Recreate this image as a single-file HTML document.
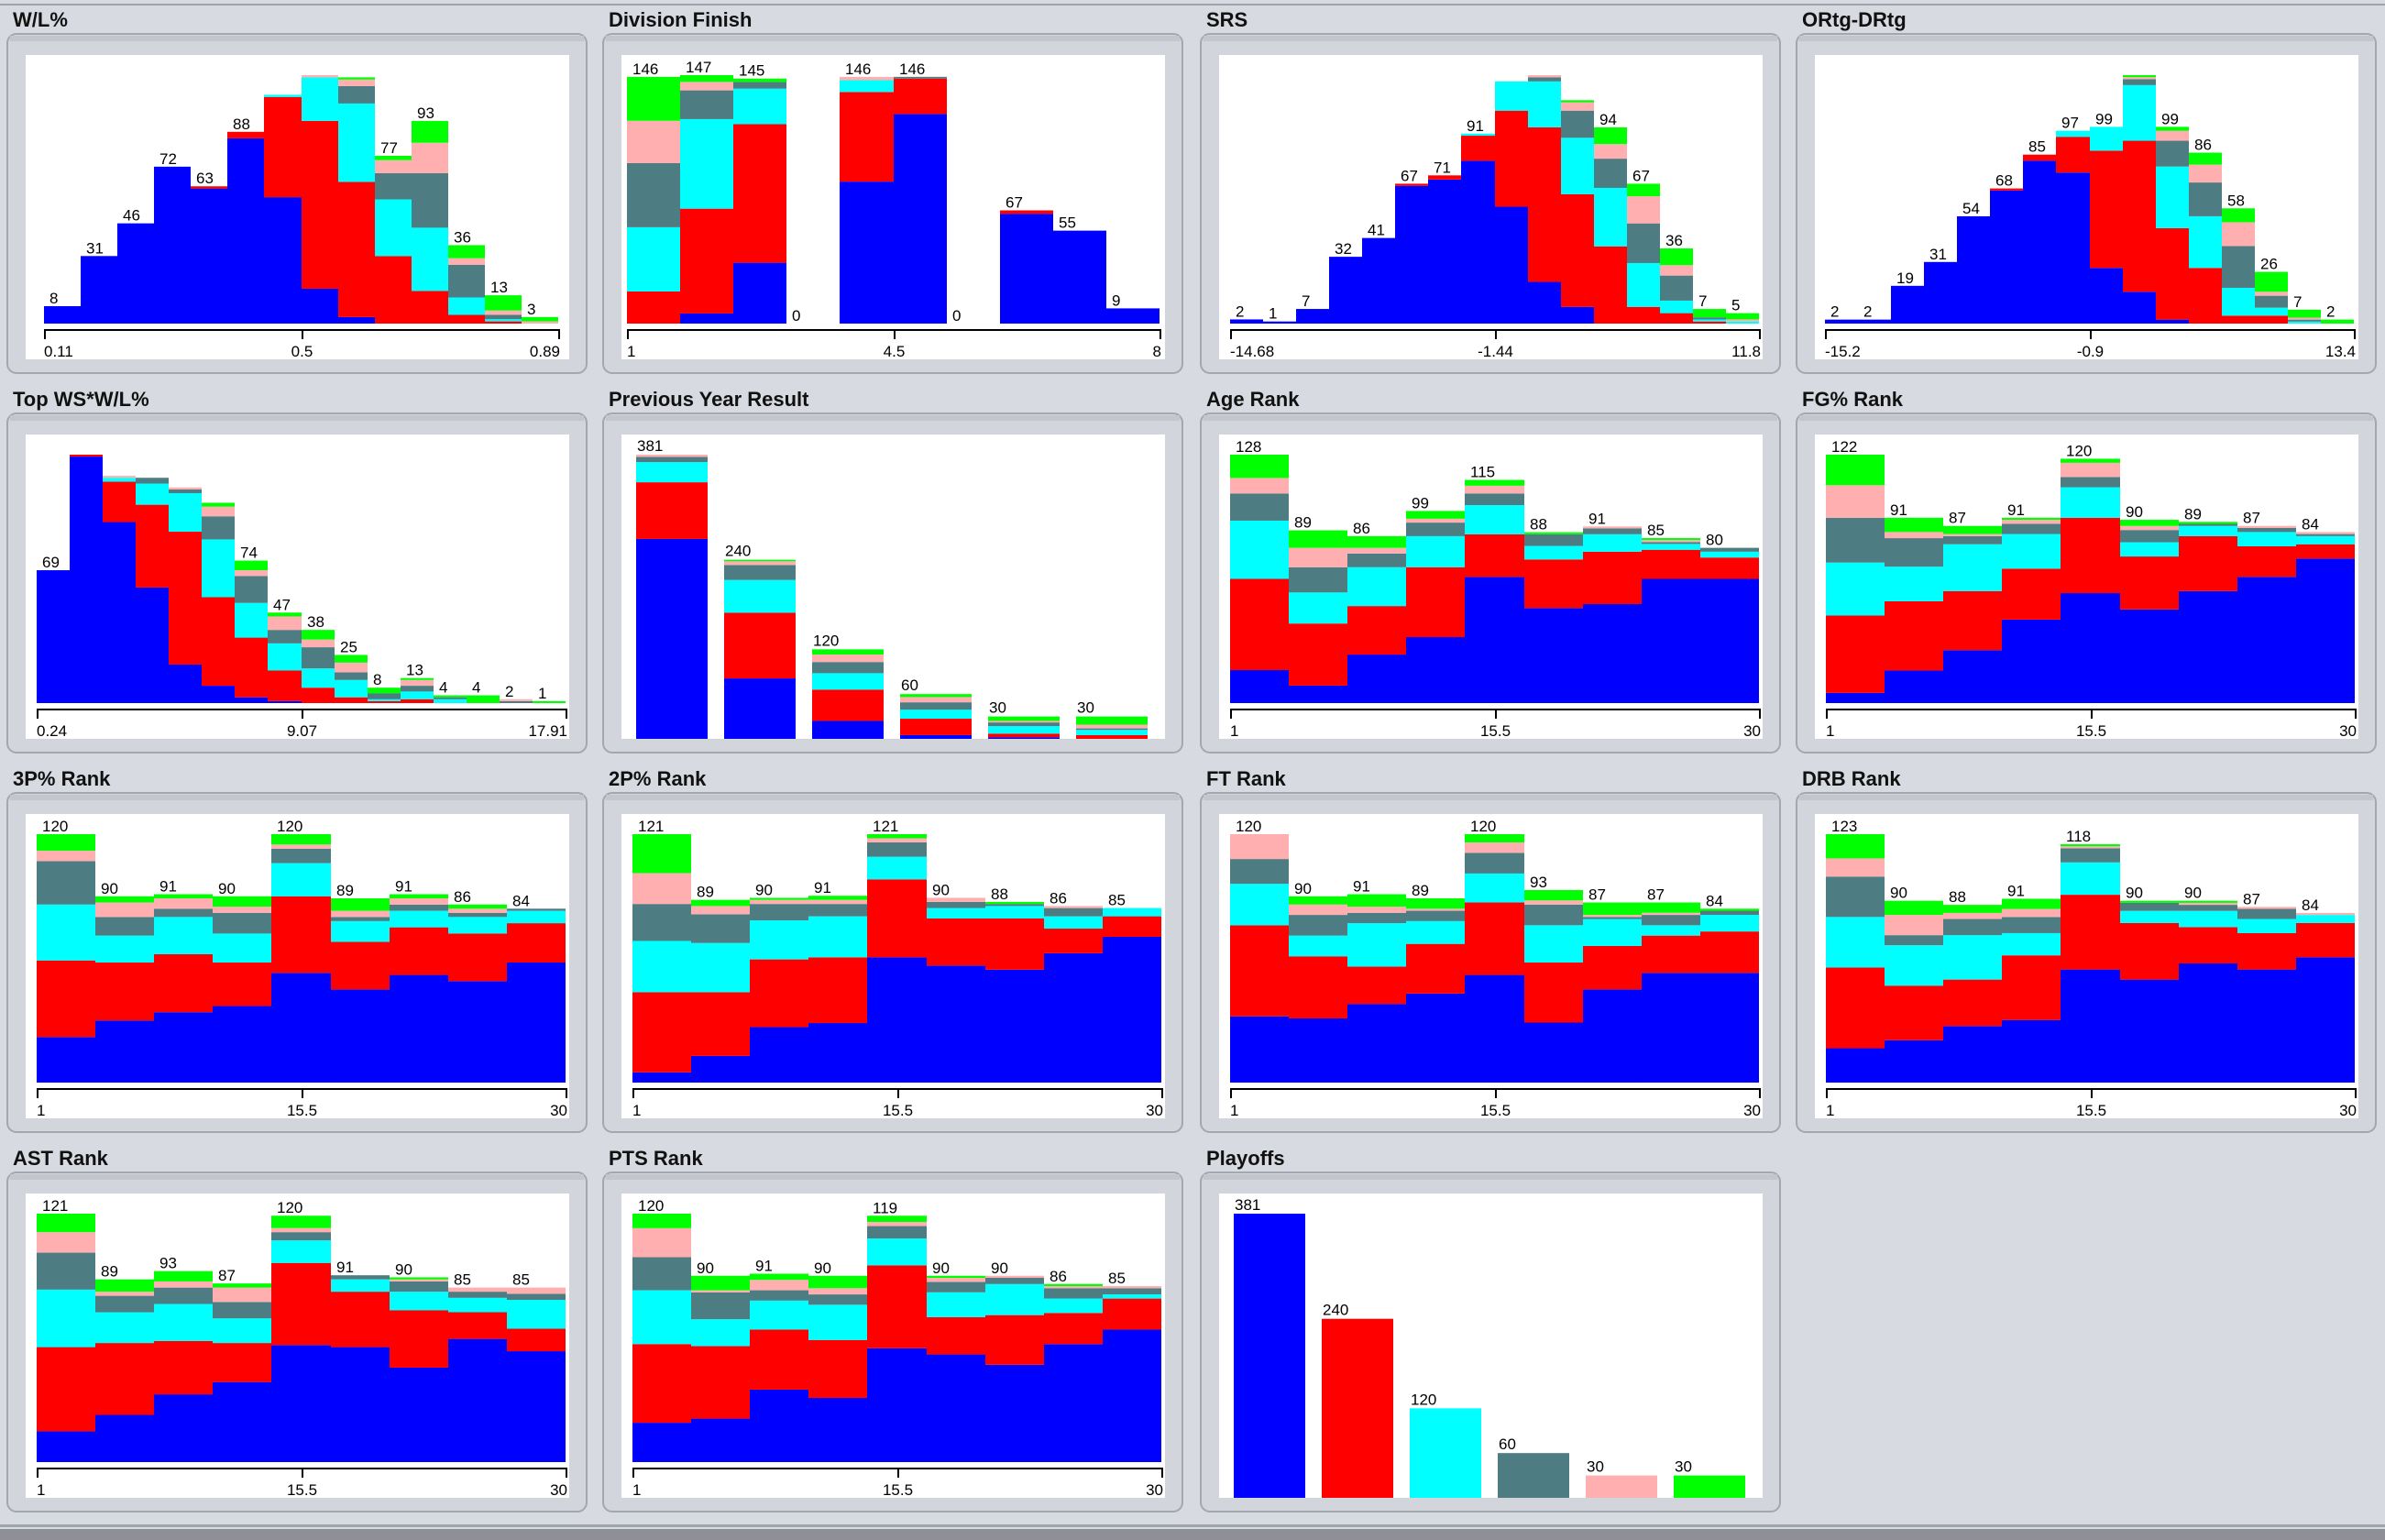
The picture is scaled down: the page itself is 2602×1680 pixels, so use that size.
<!DOCTYPE html>
<html><head><meta charset="utf-8"><title>Histograms</title>
<style>
html,body{margin:0;padding:0;background:#d7dae1;}
#root{position:relative;width:2602px;height:1680px;overflow:hidden;background:#d7dae1;}
svg text{font-family:"Liberation Sans",sans-serif;}
</style></head>
<body>
<div id="root">
<svg id="svg" width="2602" height="1680" xmlns="http://www.w3.org/2000/svg">
  <rect x="0" y="0" width="2602" height="1680" fill="#d7dae1"/>
  <rect x="0" y="4" width="2602" height="2" fill="#9ea2a9"/>
  <rect x="0" y="1663" width="2602" height="3" fill="#a0a4ab"/>
  <rect x="0" y="1668" width="2602" height="12" fill="#8e9096"/>
</svg>
</div>
<script>
const COLORS = ['#0000ff','#ff0000','#00ffff','#4d7d82','#ffafaf','#00ff00'];

// W/L%
const wlBlue  = [8,31,46,72,62,85,58,16,3,0,0,0,0,0];
const wlRed   = [0,0,0,0,1,3,46,77,62,31,15,4,1,0];
const wlCyan  = [0,0,0,0,0,0,1,20,36,26,29,8,1,0];
const wlSlate = [0,0,0,0,0,0,0,0,8,12,25,15,2,0];
const wlPink  = [0,0,0,0,0,0,0,1,3,6,14,3,2,1];
const wlGreen = [0,0,0,0,0,0,0,0,1,2,10,6,7,2];
const wlLabels = [8,31,46,72,63,88,null,null,null,77,93,36,13,3];
const wlTicks = ["0.11","0.5","0.89"];

// Division Finish
const divBlue  = [0,6,36,0,84,124,0,65,55,9];
const divRed   = [19,62,82,0,53,21,0,2,0,0];
const divCyan  = [38,53,21,0,7,0,0,0,0,0];
const divSlate = [38,17,4,0,0,1,0,0,0,0];
const divPink  = [25,5,0,0,2,0,0,0,0,0];
const divGreen = [26,4,2,0,0,0,0,0,0,0];
const divLabels = [146,147,145,0,146,146,0,67,55,9];
const divTicks = ["1","4.5","8"];

// SRS
const srsBlue  = [2,1,7,32,41,66,69,78,56,20,8,0,0,0,0,0];
const srsRed   = [0,0,0,0,0,1,2,12,46,74,54,37,8,5,1,0];
const srsCyan  = [0,0,0,0,0,0,0,1,14,22,27,28,21,6,1,1];
const srsSlate = [0,0,0,0,0,0,0,0,0,2,13,14,19,12,1,0];
const srsPink  = [0,0,0,0,0,0,0,0,0,1,4,7,13,5,0,1];
const srsGreen = [0,0,0,0,0,0,0,0,0,0,1,8,6,8,4,3];
const srsLabels = [2,1,7,32,41,67,71,91,null,null,null,94,67,36,7,5];
const srsTicks = ["-14.68","-1.44","11.8"];

// ORtg-DRtg
const ortBlue  = [2,2,19,31,54,67,82,76,28,16,2,0,0,0,0,0];
const ortRed   = [0,0,0,0,0,1,3,18,59,76,46,28,4,4,0,0];
const ortCyan  = [0,0,0,0,0,0,0,3,12,28,31,26,14,4,1,0];
const ortSlate = [0,0,0,0,0,0,0,0,0,3,13,17,21,6,1,0];
const ortPink  = [0,0,0,0,0,0,0,0,0,1,5,9,12,2,1,0];
const ortGreen = [0,0,0,0,0,0,0,0,0,1,2,6,7,10,4,2];
const ortLabels = [2,2,19,31,54,68,85,97,99,null,99,86,58,26,7,2];
const ortTicks = ["-15.2","-0.9","13.4"];

// Top WS*W/L%
const twsBlue  = [69,128,94,60,20,9,3,1,0,0,0,0,0,0,0,0];
const twsRed   = [0,1,21,43,69,46,31,16,8,3,1,2,0,0,0,0];
const twsCyan  = [0,0,2,11,20,30,18,14,10,9,1,4,2,0,0,0];
const twsSlate = [0,0,0,3,2,12,14,7,11,4,3,3,1,0,1,0];
const twsPink  = [0,0,1,0,1,5,3,7,4,5,0,3,0,0,1,0];
const twsGreen = [0,0,0,0,0,2,5,2,5,4,3,1,1,4,0,1];
const twsLabels = [69,null,null,null,null,null,74,47,38,25,8,13,4,4,2,1];
const twsTicks = ["0.24","9.07","17.91"];

// Previous Year Result
const pyrBlue  = [268,81,24,5,2,0];
const pyrRed   = [76,88,42,22,5,5];
const pyrCyan  = [27,44,22,12,10,7];
const pyrSlate = [7,20,15,10,5,2];
const pyrPink  = [3,5,10,7,2,5];
const pyrGreen = [0,2,7,4,6,11];
const pyrLabels = [381,240,120,60,30,30];

// Age Rank
const ageBlue  = [17,9,25,34,65,49,51,64,64];
const ageRed   = [47,32,25,36,22,25,27,15,11];
const ageCyan  = [30,16,20,16,15,7,9,3,3];
const ageSlate = [14,13,7,7,6,6,3,1,2];
const agePink  = [8,10,3,2,4,0,1,1,0];
const ageGreen = [12,9,6,4,3,1,0,1,0];
const ageLabels = [128,89,86,99,115,88,91,85,80];

// FG% Rank
const fgBlue  = [5,16,26,41,54,46,55,62,71];
const fgRed   = [38,34,29,25,37,26,27,15,7];
const fgCyan  = [26,17,23,17,15,7,5,7,4];
const fgSlate = [22,14,4,5,5,6,1,2,1];
const fgPink  = [16,3,1,2,7,2,0,1,1];
const fgGreen = [15,7,4,1,2,3,1,0,0];
const fgLabels = [122,91,87,91,120,90,89,87,84];

// 3P% Rank
const p3Blue  = [22,30,34,37,53,45,52,49,58];
const p3Red   = [37,28,28,21,37,23,23,23,19];
const p3Cyan  = [27,13,18,14,16,10,8,8,6];
const p3Slate = [21,9,4,10,7,2,3,2,1];
const p3Pink  = [5,7,5,3,2,3,3,2,0];
const p3Green = [8,3,2,5,5,6,2,2,0];
const p3Labels = [120,90,91,90,120,89,91,86,84];

// 2P% Rank
const p2Blue  = [5,13,27,29,61,57,55,63,71];
const p2Red   = [39,31,33,32,38,23,25,12,10];
const p2Cyan  = [25,24,19,20,11,5,6,6,4];
const p2Slate = [18,14,8,6,7,3,1,4,0];
const p2Pink  = [15,4,2,2,2,2,0,1,0];
const p2Green = [19,3,1,2,2,0,1,0,0];
const p2Labels = [121,89,90,91,121,90,88,86,85];

// FT Rank
const ftBlue  = [32,31,38,43,52,29,45,53,53];
const ftRed   = [44,30,18,24,35,29,21,18,20];
const ftCyan  = [20,10,21,11,14,18,13,5,8];
const ftSlate = [12,10,5,5,10,10,1,5,2];
const ftPink  = [12,5,3,1,5,2,1,1,0];
const ftGreen = [0,4,6,5,4,5,6,5,1];
const ftLabels = [120,90,91,89,120,93,87,87,84];

// DRB Rank
const drbBlue  = [17,21,28,31,56,51,59,56,62];
const drbRed   = [40,27,23,32,37,28,18,18,17];
const drbCyan  = [25,20,22,11,16,6,8,7,4];
const drbSlate = [20,5,8,8,7,4,3,5,0];
const drbPink  = [9,10,3,4,1,0,1,1,1];
const drbGreen = [12,7,4,5,1,1,1,0,0];
const drbLabels = [123,90,88,91,118,90,90,87,84];

// AST Rank
const astBlue  = [15,23,33,39,57,56,46,60,54];
const astRed   = [41,35,26,19,40,27,28,13,11];
const astCyan  = [28,15,18,12,11,6,9,7,14];
const astSlate = [18,8,8,8,4,2,5,3,3];
const astPink  = [10,2,3,7,2,0,1,2,3];
const astGreen = [9,6,5,2,6,0,1,0,0];
const astLabels = [121,89,93,87,120,91,90,85,85];

// PTS Rank
const ptsBlue  = [19,21,35,31,55,52,47,57,64];
const ptsRed   = [38,35,29,28,40,18,24,15,15];
const ptsCyan  = [26,13,14,17,13,12,15,7,2];
const ptsSlate = [16,13,5,5,6,5,3,5,3];
const ptsPink  = [14,1,5,3,2,2,1,1,1];
const ptsGreen = [7,7,3,6,3,1,0,1,0];
const ptsLabels = [120,90,91,90,119,90,90,86,85];

// Playoffs
const poValues = [381,240,120,60,30,30];
const poLabels = [381,240,120,60,30,30];

const rankTicks = ["1","15.5","30"];

const NS = 'http://www.w3.org/2000/svg';
const svg = document.getElementById('svg');
const COLS = [8, 658, 1310, 1960];
const ROWS = [37, 451, 865, 1279];
const BOXW = 632, BOXH = 370;

function mk(tag, attrs, parent) {
  const e = document.createElementNS(NS, tag);
  for (const k in attrs) e.setAttribute(k, attrs[k]);
  (parent || svg).appendChild(e);
  return e;
}

function panelFrame(col, row, title, key) {
  const X = COLS[col], Y = ROWS[row];
  const g = mk('g', {});
  
  
  const t = mk('text', {x: X + 6, y: Y - 8, 'font-size': 22, 'font-weight': 'bold', fill: '#111'}, g);
  t.textContent = title;
  
  
  const box = mk('rect', {x: X, y: Y, width: BOXW, height: BOXH, rx: 10, ry: 10, fill: '#d2d5db', stroke: '#a3a7ae', 'stroke-width': 2}, g);
  
  
  mk('rect', {x: X + 3, y: Y + 2, width: BOXW - 6, height: 6, fill: '#c3c6cc'}, g);
  const plot = mk('rect', {x: X + 20, y: Y + 23, width: 593, height: 332, fill: '#ffffff'}, g);
  
  
  return {g, X, Y, L: X + 20};
}

function histPanel(col, row, title, key, series, labels, ticks, span) {
  const f = panelFrame(col, row, title, key);
  const n = series[0].length;
  const totals = [];
  for (let i = 0; i < n; i++) { let s = 0; for (const a of series) s += a[i]; totals.push(s); }
  const yMax = Math.max(...totals);
  const base = f.Y + 316, plotH = 271;
  const x0 = f.L + span[0], x1 = f.L + span[1];
  const xScale = b => x0 + (x1 - x0) * b / n;
  const yScale = v => plotH * v / yMax;
  for (let i = 0; i < n; i++) {
    let cum = 0;
    const bx = Math.round(xScale(i)), bw = Math.round(xScale(i + 1)) - bx;
    series.forEach((arr, si) => {
      const v = arr[i];
      if (v <= 0) { return; }
      const yTop = base - yScale(cum + v), yBot = base - yScale(cum);
      const r = mk('rect', {x: bx, y: yTop.toFixed(2), width: bw, height: (yBot - yTop).toFixed(2), fill: COLORS[si]}, f.g);
      
      
      cum += v;
    });
    if (labels[i] !== null && labels[i] !== undefined) {
      const t = mk('text', {x: bx + 6, y: (base - yScale(totals[i]) - 3).toFixed(1), 'font-size': 17, fill: '#000'}, f.g);
      t.textContent = labels[i];
      
      
    }
  }
  const ay = f.Y + 322;
  const axis = mk('rect', {x: x0, y: ay, width: x1 - x0 + 2, height: 2, fill: '#000'}, f.g);
  
  
  [x0, (x0 + x1) / 2, x1].forEach(tx => {
    mk('rect', {x: Math.round(tx), y: ay, width: 2, height: 11, fill: '#000'}, f.g);
  });
  const anchors = ['start', 'middle', 'end'];
  const pos = [x0, (x0 + x1) / 2 + 1, x1 + 2];
  ticks.forEach((tk, i) => {
    const t = mk('text', {x: pos[i], y: f.Y + 352, 'font-size': 17, 'text-anchor': anchors[i], fill: '#000'}, f.g);
    t.textContent = tk;
    
    
  });
}

function barPanel(col, row, title, key, series, labels, singles) {
  const f = panelFrame(col, row, title, key);
  const n = series ? series[0].length : singles.length;
  const totals = [];
  for (let i = 0; i < n; i++) {
    let s = 0;
    if (series) { for (const a of series) s += a[i]; } else { s = singles[i]; }
    totals.push(s);
  }
  const yMax = Math.max(...totals);
  const base = f.Y + 355, plotH = 310;
  const xScale = i => f.L + 16 + 96 * i;
  const yScale = v => plotH * v / yMax;
  for (let i = 0; i < n; i++) {
    const bx = xScale(i), bw = 78;
    if (series) {
      let cum = 0;
      series.forEach((arr, si) => {
        const v = arr[i];
        if (v <= 0) { return; }
        const yTop = base - yScale(cum + v), yBot = base - yScale(cum);
        const r = mk('rect', {x: bx, y: yTop.toFixed(2), width: bw, height: (yBot - yTop).toFixed(2), fill: COLORS[si]}, f.g);
        
        
        cum += v;
      });
    } else {
      const yTop = base - yScale(singles[i]);
      const r = mk('rect', {x: bx, y: yTop.toFixed(2), width: bw, height: yScale(singles[i]).toFixed(2), fill: COLORS[i]}, f.g);
      
      
    }
    const t = mk('text', {x: bx + 1, y: (base - yScale(totals[i]) - 4).toFixed(1), 'font-size': 17, fill: '#000'}, f.g);
    t.textContent = labels[i];
    
    
  }
}

const RANK = [12, 589];
histPanel(0, 0, 'W/L%', 'win-loss-pct', [wlBlue, wlRed, wlCyan, wlSlate, wlPink, wlGreen], wlLabels, wlTicks, [20, 581]);
histPanel(1, 0, 'Division Finish', 'division-finish', [divBlue, divRed, divCyan, divSlate, divPink, divGreen], divLabels, divTicks, [6, 587]);
histPanel(2, 0, 'SRS', 'srs', [srsBlue, srsRed, srsCyan, srsSlate, srsPink, srsGreen], srsLabels, srsTicks, [12, 589]);
histPanel(3, 0, 'ORtg-DRtg', 'ortg-drtg', [ortBlue, ortRed, ortCyan, ortSlate, ortPink, ortGreen], ortLabels, ortTicks, [11, 588]);
histPanel(0, 1, 'Top WS*W/L%', 'top-ws-wl', [twsBlue, twsRed, twsCyan, twsSlate, twsPink, twsGreen], twsLabels, twsTicks, RANK);
barPanel(1, 1, 'Previous Year Result', 'previous-year-result', [pyrBlue, pyrRed, pyrCyan, pyrSlate, pyrPink, pyrGreen], pyrLabels, null);
histPanel(2, 1, 'Age Rank', 'age-rank', [ageBlue, ageRed, ageCyan, ageSlate, agePink, ageGreen], ageLabels, rankTicks, RANK);
histPanel(3, 1, 'FG% Rank', 'fg-pct-rank', [fgBlue, fgRed, fgCyan, fgSlate, fgPink, fgGreen], fgLabels, rankTicks, RANK);
histPanel(0, 2, '3P% Rank', '3p-pct-rank', [p3Blue, p3Red, p3Cyan, p3Slate, p3Pink, p3Green], p3Labels, rankTicks, RANK);
histPanel(1, 2, '2P% Rank', '2p-pct-rank', [p2Blue, p2Red, p2Cyan, p2Slate, p2Pink, p2Green], p2Labels, rankTicks, RANK);
histPanel(2, 2, 'FT Rank', 'ft-rank', [ftBlue, ftRed, ftCyan, ftSlate, ftPink, ftGreen], ftLabels, rankTicks, RANK);
histPanel(3, 2, 'DRB Rank', 'drb-rank', [drbBlue, drbRed, drbCyan, drbSlate, drbPink, drbGreen], drbLabels, rankTicks, RANK);
histPanel(0, 3, 'AST Rank', 'ast-rank', [astBlue, astRed, astCyan, astSlate, astPink, astGreen], astLabels, rankTicks, RANK);
histPanel(1, 3, 'PTS Rank', 'pts-rank', [ptsBlue, ptsRed, ptsCyan, ptsSlate, ptsPink, ptsGreen], ptsLabels, rankTicks, RANK);
barPanel(2, 3, 'Playoffs', 'playoffs', null, poLabels, poValues);
</script>
</body></html>
